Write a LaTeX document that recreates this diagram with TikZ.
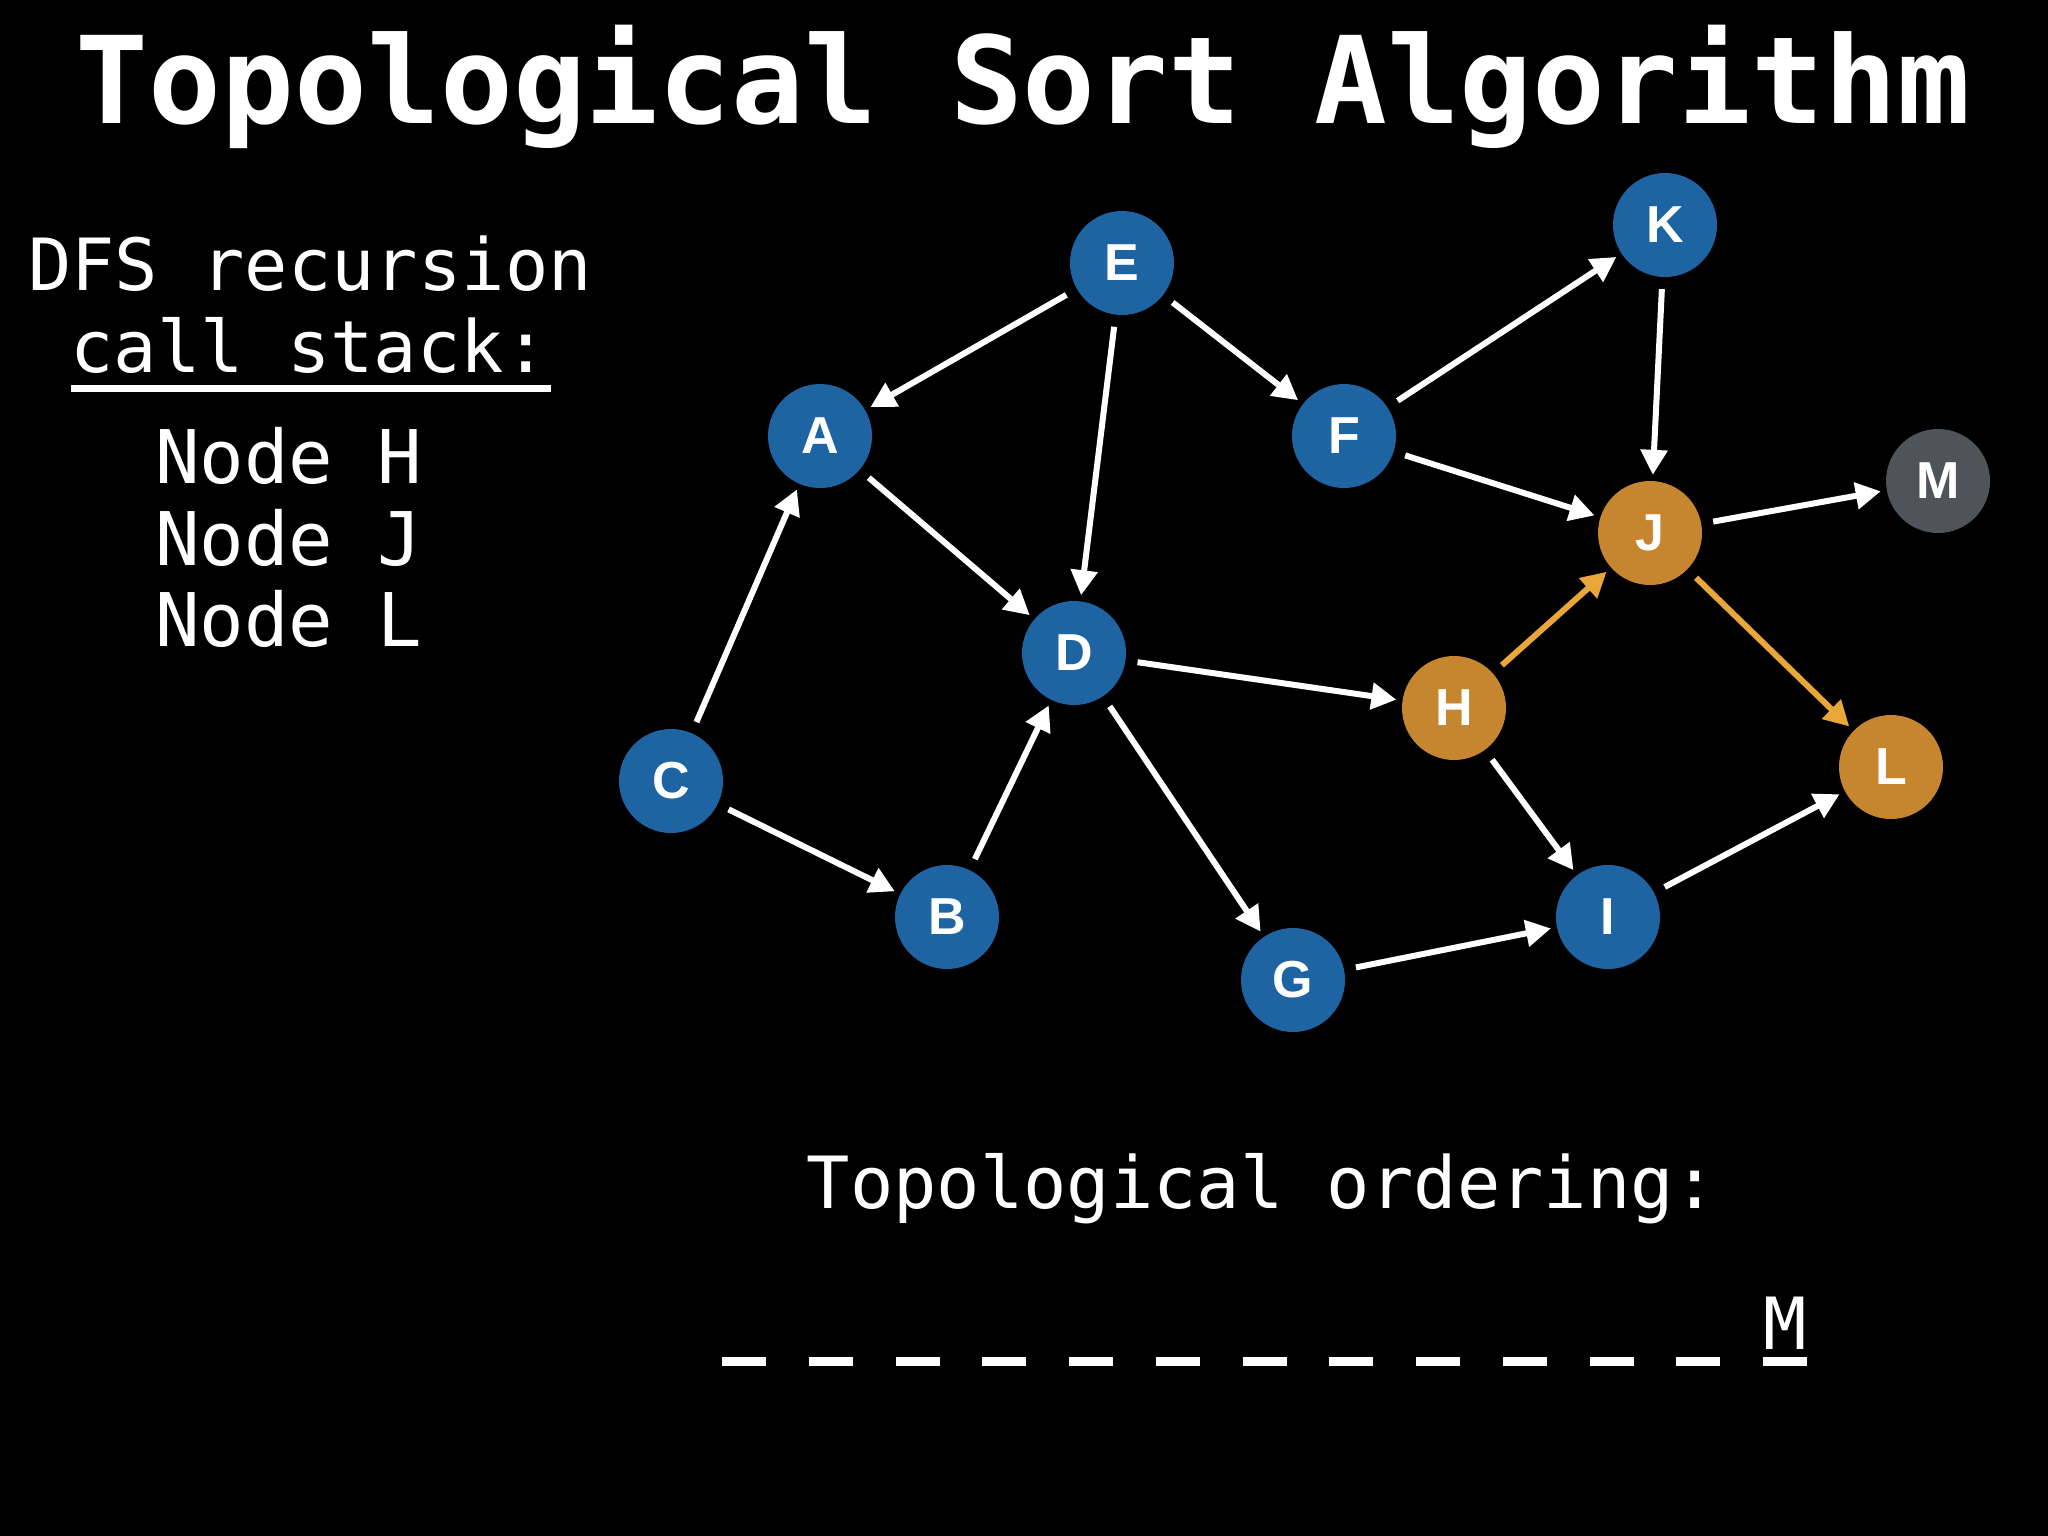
\documentclass[tikz,border=0pt]{standalone}
\usepackage{fontspec}
\setmainfont{DejaVu Sans Mono}
\newfontfamily\monofont{DejaVu Sans Mono}
\newfontfamily\labelfont{Liberation Sans}
\usetikzlibrary{arrows.meta}
\definecolor{nodeblue}{HTML}{1E64A2}
\definecolor{nodeorange}{HTML}{C6852F}
\definecolor{nodegray}{HTML}{4F545A}
\definecolor{edgeorange}{HTML}{E9A73A}
\begin{document}
\begin{tikzpicture}[x=1pt,y=-1pt,
  vert/.style={circle,minimum size=104pt,inner sep=0pt,text=white,
    font=\labelfont\bfseries\fontsize{52}{52}\selectfont},
  bluev/.style={vert,fill=nodeblue},
  orangev/.style={vert,fill=nodeorange},
  grayv/.style={vert,fill=nodegray},
  edge/.style={draw=white,line width=6pt,
    -{Triangle[length=25pt,width=26pt]},shorten <=12pt,shorten >=6pt},
  hot/.style={edge,draw=edgeorange,fill=edgeorange},
  txt/.style={text=white,inner sep=0pt,anchor=base,
    font=\monofont\fontsize{72}{72}\selectfont},
  stacktxt/.style={txt,anchor=base west,font=\monofont\fontsize{74}{74}\selectfont},
  dashseg/.style={fill=white,draw=none}]
\fill[black] (0,0) rectangle (2048,1536);
\useasboundingbox (0,0) rectangle (2048,1536);
% title
\node[text=white,inner sep=0pt,anchor=base,
  font=\monofont\bfseries\fontsize{121}{121}\selectfont] (title) at (1023,124) {Topological Sort Algorithm};
% call stack
\node[txt] (dfs) at (310,290) {DFS recursion};
\node[txt] (call) at (309,372) {call stack:};
\draw[white,line width=7pt] (71,388) coordinate (ul1) -- (551,388) coordinate (ul2);
\node[stacktxt] (sH) at (155,483) {Node H};
\node[stacktxt] (sJ) at (155,565) {Node J};
\node[stacktxt] (sL) at (155,646) {Node L};
% ordering
\node[txt] (ord) at (1262,1208) {Topological ordering:};
\foreach \i in {0,...,12} {
  \fill[dashseg] ({722+86.75*\i},1357) rectangle ({766+86.75*\i},1366);
}
\node[txt] (mres) at (1785,1349) {M};
% vertices
\node[bluev] (E) at (1122,263) {E};
\node[bluev] (A) at (820,436) {A};
\node[bluev] (F) at (1344,436) {F};
\node[bluev] (K) at (1665,225) {K};
\node[grayv] (M) at (1938,481) {M};
\node[orangev] (J) at (1650,533) {J};
\node[bluev] (D) at (1074,653) {D};
\node[orangev] (H) at (1454,708) {H};
\node[orangev] (L) at (1891,767) {L};
\node[bluev] (C) at (671,781) {C};
\node[bluev] (B) at (947,917) {B};
\node[bluev] (I) at (1608,917) {I};
\node[bluev] (G) at (1293,980) {G};
% edges
\draw[edge] (E) -- (A);
\draw[edge] (E) -- (D);
\draw[edge] (E) -- (F);
\draw[edge] (A) -- (D);
\draw[edge] (C) -- (A);
\draw[edge] (C) -- (B);
\draw[edge] (B) -- (D);
\draw[edge] (D) -- (H);
\draw[edge] (D) -- (G);
\draw[edge] (F) -- (K);
\draw[edge] (F) -- (J);
\draw[edge] (K) -- (J);
\draw[edge] (J) -- (M);
\draw[edge] (H) -- (I);
\draw[edge] (G) -- (I);
\draw[edge] (I) -- (L);
\draw[hot] (H) -- (J);
\draw[hot] (J) -- (L);
\end{tikzpicture}
\end{document}
